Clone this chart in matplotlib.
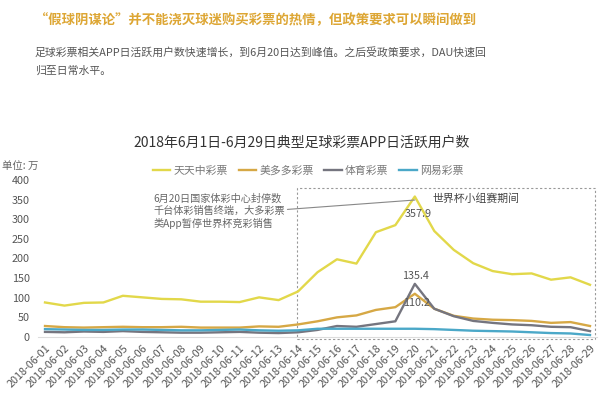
import matplotlib.pyplot as plt
from matplotlib.patches import Rectangle

plt.rcParams['font.family'] = ['Noto Sans CJK SC', 'DejaVu Sans']

dates = ["2018-06-%02d" % d for d in range(1, 30)]

# 单位: 万
tiantian = [88, 80, 87, 88, 105, 101, 97, 96, 90, 90, 89, 101, 94, 116,
            165, 198, 187, 267, 285, 357.9, 270, 222, 188, 168, 160, 162, 146, 152, 133]
meiduoduo = [28, 25, 24, 25, 26, 25, 25, 26, 24, 24, 24, 27, 26, 32,
             40, 50, 55, 69, 76, 110.2, 72, 54, 47, 44, 43, 41, 36, 38, 28]
tiyu = [13, 12, 14, 13, 15, 13, 12, 11, 11, 12, 13, 11, 10, 12,
        18, 28, 26, 33, 40, 135.4, 72, 53, 41, 36, 32, 30, 26, 25, 15]
wangyi = [20, 19, 18, 18, 19, 19, 18, 17, 17, 18, 19, 17, 16, 17,
          21, 21, 21, 21, 21, 21, 20, 18, 16, 15, 14, 12, 10, 9, 5]

fig = plt.figure(figsize=(6.05, 4.0), dpi=100)
fig.patch.set_facecolor("white")

# 标题
fig.text(35 / 605, 1 - 20 / 400, "“假球阴谋论”并不能浇灭球迷购买彩票的热情，但政策要求可以瞬间做到",
         fontsize=9.6, color="#DDA634", fontweight="bold", va="center")
fig.text(35 / 605, 1 - 52 / 400,
         "足球彩票相关APP日活跃用户数快速增长，到6月20日达到峰值。之后受政策要求，DAU快速回",
         fontsize=7.8, color="#555555", va="center")
fig.text(35 / 605, 1 - 71 / 400, "归至日常水平。", fontsize=7.8, color="#555555", va="center")
fig.text(302 / 605, 1 - 143 / 400, "2018年6月1日-6月29日典型足球彩票APP日活跃用户数",
         fontsize=10, color="#333333", ha="center", va="center")
fig.text(2 / 605, 1 - 166 / 400, "单位: 万", fontsize=7.5, color="#666666", va="center")

ax = fig.add_axes([38 / 605, 1 - 337 / 400, 559 / 605, 157 / 400])
x = list(range(len(dates)))
ax.plot(x, tiantian, color="#E2D84A", lw=1.7, label="天天中彩票")
ax.plot(x, meiduoduo, color="#D6A845", lw=1.7, label="美多多彩票")
ax.plot(x, tiyu, color="#75757F", lw=1.7, label="体育彩票")
ax.plot(x, wangyi, color="#4BA8C8", lw=1.7, label="网易彩票")

ax.set_xlim(-0.36, 28.36)
ax.set_ylim(0, 400)
ax.set_yticks(range(0, 401, 50))
ax.set_xticks(x)
ax.set_xticklabels(dates, rotation=45, ha="right", rotation_mode="anchor")
ax.tick_params(axis="both", length=0, labelsize=7.8, labelcolor="#555555")
ax.tick_params(axis="y", pad=6)
ax.tick_params(axis="x", pad=4)
for s in ["top", "right", "left"]:
    ax.spines[s].set_visible(False)
ax.spines["bottom"].set_color("#DDDDDD")

leg = ax.legend(loc="center left", bbox_to_anchor=(105 / 559, 1 + 9 / 157), ncol=4, frameon=False,
                fontsize=7.8, handlelength=1.6, handletextpad=0.3, columnspacing=1.0)
for t in leg.get_texts():
    t.set_color("#777777")

# 世界杯小组赛期间
ax.add_patch(Rectangle((12.95, -4), 15.3, 383, fill=False, ls=(0, (2, 2)),
                       lw=0.8, ec="#999999", clip_on=False))
ax.text(19.9, 352, "世界杯小组赛期间", fontsize=7.8, color="#444444", va="center")

ax.annotate("6月20日国家体彩中心封停数\n千台体彩销售终端，大多彩票\n类App暂停世界杯竞彩销售",
            xy=(19.0, 349), xytext=(5.55, 320), fontsize=7.3, color="#666666",
            va="center", ha="left", linespacing=1.25,
            arrowprops=dict(arrowstyle="-", color="#888888", lw=0.8, shrinkA=0, shrinkB=0,
                            relpos=(1.0, 0.55)))

ax.text(19.2, tiantian[19] - 52, "357.9", fontsize=7.8, color="#555555", ha="center")
ax.text(19.05, tiyu[19] + 12, "135.4", fontsize=7.8, color="#555555", ha="center")
ax.text(19.1, meiduoduo[19] - 30, "110.2", fontsize=7.8, color="#555555", ha="center")

fig.savefig("out.png", dpi=100)
